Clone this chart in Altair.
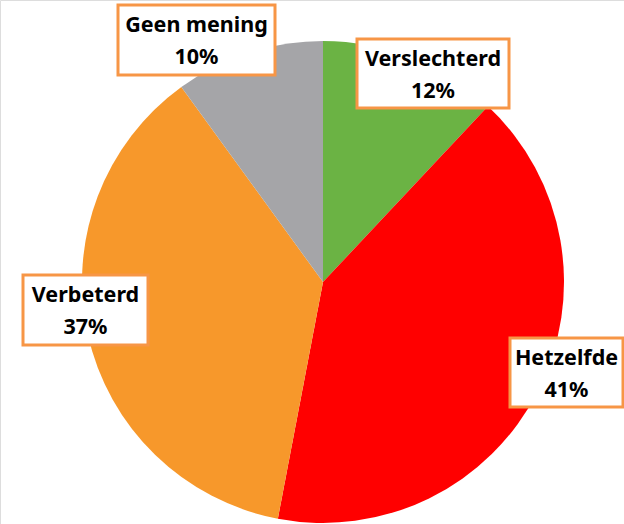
import altair as alt
import pandas as pd

categories = ["Verslechterd", "Hetzelfde", "Verbeterd", "Geen mening"]
values = [12, 41, 37, 10]
colors = ["#6BB344", "#FF0000", "#F7982B", "#A5A5A8"]

# label box layout (pixels)
box_x1 = [357, 510, 23, 118]
box_x2 = [509, 623, 148, 275]
box_y1 = [39, 338, 275, 5]
box_y2 = [108, 407, 345, 75]

df = pd.DataFrame({
    "cat": categories,
    "val": values,
    "order": list(range(len(categories))),
    "pct": [f"{v}%" for v in values],
    "x1": box_x1, "x2": box_x2, "y1": box_y1, "y2": box_y2,
})
df["xc"] = (df["x1"] + df["x2"]) / 2
df["yc"] = (df["y1"] + df["y2"]) / 2

pie = alt.Chart(df).mark_arc(outerRadius=241, stroke=None).encode(
    theta=alt.Theta("val:Q", stack=True),
    order=alt.Order("order:Q"),
    color=alt.Color("cat:N", scale=alt.Scale(domain=categories, range=colors), legend=None),
    x=alt.value(323),
    y=alt.value(282),
)

boxes = alt.Chart(df).mark_rect(fill="white", stroke="#F79646", strokeWidth=3).encode(
    x=alt.X("x1:Q", scale=None),
    x2="x2:Q",
    y=alt.Y("y1:Q", scale=None),
    y2="y2:Q",
)

FONT = "Noto Sans"
t1 = alt.Chart(df).mark_text(font=FONT, fontWeight="bold", fontSize=21.5, color="black", baseline="middle").encode(
    x=alt.X("xc:Q", scale=None),
    y=alt.Y("yc:Q", scale=None),
    text="cat:N",
    yOffset=alt.value(-14),
)
t2 = alt.Chart(df).mark_text(font=FONT, fontWeight="bold", fontSize=21.5, color="black", baseline="middle").encode(
    x=alt.X("xc:Q", scale=None),
    y=alt.Y("yc:Q", scale=None),
    text="pct:N",
    yOffset=alt.value(18),
)

chart = alt.layer(pie, boxes, t1, t2).properties(
    width=624, height=524, padding=0,
    autosize=alt.AutoSizeParams(type="none"),
).configure_view(stroke=None).configure(background="white")

chart.save("out.html", embed_options={"renderer": "svg", "actions": False})
